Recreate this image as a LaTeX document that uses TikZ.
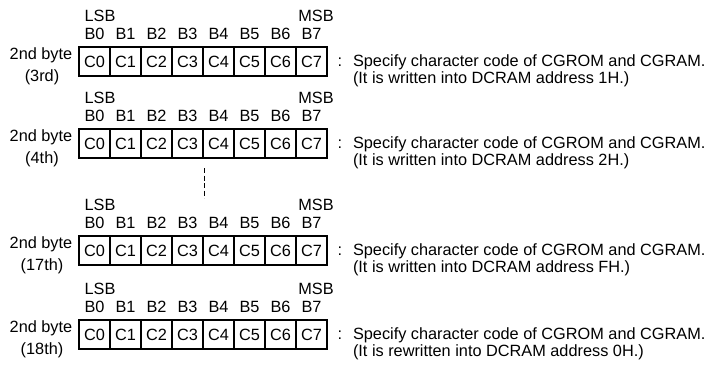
\documentclass[tikz,border=0pt]{standalone}
\usepackage{fontspec}
\setmainfont{Liberation Sans}
\begin{document}
\begin{tikzpicture}[x=1pt,y=-1pt,
  every node/.style={font=\fontsize{16.3}{18}\selectfont, inner sep=0pt, outer sep=0pt},
  cell/.style={draw, line width=1.2pt, minimum width=31pt, minimum height=29pt, anchor=north west},
  lbl/.style={anchor=base},
  desc/.style={anchor=base west},
  gap/.style={line width=0.8pt, dash pattern=on 5pt off 2.5pt}]
\useasboundingbox (0,0) rectangle (714,367);
\foreach \k/\yy/\od/\addr/\vb in {1/47/3rd/1H/written, 2/129/4th/2H/written, 3/236/17th/FH/written, 4/320/18th/0H/rewritten} {
  \foreach \i in {0,...,7} {
    \node[cell] (c\k-\i) at ({79+31*\i}, \yy) {C\i};
    \node[lbl] (b\k-\i) at ({94.5+31*\i}, \yy-8) {B\i};
  }
  \node[lbl] (lsb\k) at (100, \yy-26) {LSB};
  \node[lbl] (msb\k) at (316, \yy-26) {MSB};
  \node[lbl] (name\k) at (41, \yy+12) {2nd byte};
  \node[lbl] (ord\k) at (42, \yy+34) {(\od)};
  \node[lbl] (colon\k) at (340, \yy+19) {:};
  \node[desc] (da\k) at (353, \yy+19) {Specify character code of CGROM and CGRAM.};
  \node[desc] (db\k) at (353, \yy+36) {(It is \vb\ into DCRAM address \addr.)};
}
\coordinate (d1) at (204,168);
\coordinate (d2) at (204,198);
\draw[gap] (d1) -- (d2);
\end{tikzpicture}
\end{document}
